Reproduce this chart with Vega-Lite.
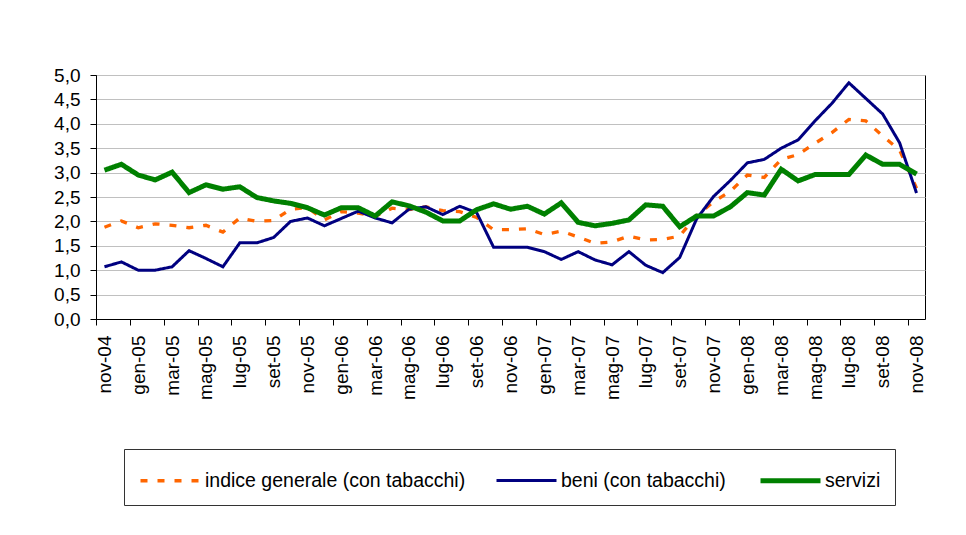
{
  "$schema": "https://vega.github.io/schema/vega-lite/v6.json",
  "autosize": {"type": "none"},
  "padding": {"left": 96, "top": 75, "right": 41, "bottom": 216},
  "width": 829,
  "height": 244,
  "background": "white",
  "config": {
    "view": {"stroke": "#000000", "strokeWidth": 1},
    "font": "Liberation Sans"
  },
  "data": {
    "values": [
      {"mese": "nov-04", "indice generale (con tabacchi)": 1.88, "beni (con tabacchi)": 1.07, "servizi": 3.05},
      {"mese": "dic-04", "indice generale (con tabacchi)": 2.01, "beni (con tabacchi)": 1.17, "servizi": 3.17},
      {"mese": "gen-05", "indice generale (con tabacchi)": 1.87, "beni (con tabacchi)": 1.00, "servizi": 2.95},
      {"mese": "feb-05", "indice generale (con tabacchi)": 1.95, "beni (con tabacchi)": 1.00, "servizi": 2.85},
      {"mese": "mar-05", "indice generale (con tabacchi)": 1.92, "beni (con tabacchi)": 1.07, "servizi": 3.01},
      {"mese": "apr-05", "indice generale (con tabacchi)": 1.87, "beni (con tabacchi)": 1.40, "servizi": 2.59},
      {"mese": "mag-05", "indice generale (con tabacchi)": 1.92, "beni (con tabacchi)": 1.24, "servizi": 2.75},
      {"mese": "giu-05", "indice generale (con tabacchi)": 1.78, "beni (con tabacchi)": 1.07, "servizi": 2.66},
      {"mese": "lug-05", "indice generale (con tabacchi)": 2.07, "beni (con tabacchi)": 1.56, "servizi": 2.71},
      {"mese": "ago-05", "indice generale (con tabacchi)": 2.00, "beni (con tabacchi)": 1.56, "servizi": 2.49},
      {"mese": "set-05", "indice generale (con tabacchi)": 2.02, "beni (con tabacchi)": 1.67, "servizi": 2.42},
      {"mese": "ott-05", "indice generale (con tabacchi)": 2.25, "beni (con tabacchi)": 2.00, "servizi": 2.37},
      {"mese": "nov-05", "indice generale (con tabacchi)": 2.28, "beni (con tabacchi)": 2.07, "servizi": 2.28},
      {"mese": "dic-05", "indice generale (con tabacchi)": 2.03, "beni (con tabacchi)": 1.91, "servizi": 2.13},
      {"mese": "gen-06", "indice generale (con tabacchi)": 2.20, "beni (con tabacchi)": 2.06, "servizi": 2.28},
      {"mese": "feb-06", "indice generale (con tabacchi)": 2.17, "beni (con tabacchi)": 2.21, "servizi": 2.28},
      {"mese": "mar-06", "indice generale (con tabacchi)": 2.10, "beni (con tabacchi)": 2.07, "servizi": 2.11},
      {"mese": "apr-06", "indice generale (con tabacchi)": 2.27, "beni (con tabacchi)": 1.97, "servizi": 2.40},
      {"mese": "mag-06", "indice generale (con tabacchi)": 2.24, "beni (con tabacchi)": 2.25, "servizi": 2.32},
      {"mese": "giu-06", "indice generale (con tabacchi)": 2.30, "beni (con tabacchi)": 2.30, "servizi": 2.19},
      {"mese": "lug-06", "indice generale (con tabacchi)": 2.22, "beni (con tabacchi)": 2.14, "servizi": 2.01},
      {"mese": "ago-06", "indice generale (con tabacchi)": 2.20, "beni (con tabacchi)": 2.31, "servizi": 2.01},
      {"mese": "set-06", "indice generale (con tabacchi)": 2.08, "beni (con tabacchi)": 2.18, "servizi": 2.24},
      {"mese": "ott-06", "indice generale (con tabacchi)": 1.83, "beni (con tabacchi)": 1.47, "servizi": 2.36},
      {"mese": "nov-06", "indice generale (con tabacchi)": 1.83, "beni (con tabacchi)": 1.47, "servizi": 2.25},
      {"mese": "dic-06", "indice generale (con tabacchi)": 1.85, "beni (con tabacchi)": 1.47, "servizi": 2.31},
      {"mese": "gen-07", "indice generale (con tabacchi)": 1.73, "beni (con tabacchi)": 1.38, "servizi": 2.15},
      {"mese": "feb-07", "indice generale (con tabacchi)": 1.80, "beni (con tabacchi)": 1.22, "servizi": 2.38},
      {"mese": "mar-07", "indice generale (con tabacchi)": 1.68, "beni (con tabacchi)": 1.38, "servizi": 1.98},
      {"mese": "apr-07", "indice generale (con tabacchi)": 1.55, "beni (con tabacchi)": 1.21, "servizi": 1.91},
      {"mese": "mag-07", "indice generale (con tabacchi)": 1.58, "beni (con tabacchi)": 1.11, "servizi": 1.96},
      {"mese": "giu-07", "indice generale (con tabacchi)": 1.70, "beni (con tabacchi)": 1.38, "servizi": 2.03},
      {"mese": "lug-07", "indice generale (con tabacchi)": 1.62, "beni (con tabacchi)": 1.10, "servizi": 2.34},
      {"mese": "ago-07", "indice generale (con tabacchi)": 1.63, "beni (con tabacchi)": 0.95, "servizi": 2.31},
      {"mese": "set-07", "indice generale (con tabacchi)": 1.70, "beni (con tabacchi)": 1.26, "servizi": 1.89},
      {"mese": "ott-07", "indice generale (con tabacchi)": 2.12, "beni (con tabacchi)": 2.05, "servizi": 2.11},
      {"mese": "nov-07", "indice generale (con tabacchi)": 2.40, "beni (con tabacchi)": 2.51, "servizi": 2.11},
      {"mese": "dic-07", "indice generale (con tabacchi)": 2.62, "beni (con tabacchi)": 2.84, "servizi": 2.30},
      {"mese": "gen-08", "indice generale (con tabacchi)": 2.95, "beni (con tabacchi)": 3.20, "servizi": 2.59},
      {"mese": "feb-08", "indice generale (con tabacchi)": 2.90, "beni (con tabacchi)": 3.27, "servizi": 2.54},
      {"mese": "mar-08", "indice generale (con tabacchi)": 3.27, "beni (con tabacchi)": 3.50, "servizi": 3.07},
      {"mese": "apr-08", "indice generale (con tabacchi)": 3.37, "beni (con tabacchi)": 3.67, "servizi": 2.83},
      {"mese": "mag-08", "indice generale (con tabacchi)": 3.60, "beni (con tabacchi)": 4.06, "servizi": 2.96},
      {"mese": "giu-08", "indice generale (con tabacchi)": 3.82, "beni (con tabacchi)": 4.42, "servizi": 2.96},
      {"mese": "lug-08", "indice generale (con tabacchi)": 4.09, "beni (con tabacchi)": 4.84, "servizi": 2.96},
      {"mese": "ago-08", "indice generale (con tabacchi)": 4.06, "beni (con tabacchi)": 4.52, "servizi": 3.36},
      {"mese": "set-08", "indice generale (con tabacchi)": 3.75, "beni (con tabacchi)": 4.20, "servizi": 3.17},
      {"mese": "ott-08", "indice generale (con tabacchi)": 3.46, "beni (con tabacchi)": 3.61, "servizi": 3.17},
      {"mese": "nov-08", "indice generale (con tabacchi)": 2.68, "beni (con tabacchi)": 2.58, "servizi": 2.97}
    ]
  },
  "transform": [
    {"fold": ["indice generale (con tabacchi)", "beni (con tabacchi)", "servizi"], "as": ["serie", "valore"]}
  ],
  "mark": {"type": "line", "strokeJoin": "miter", "strokeCap": "butt"},
  "encoding": {
    "x": {
      "field": "mese",
      "type": "ordinal",
      "sort": null,
      "scale": {"type": "point", "padding": 0.5},
      "axis": {
        "title": null,
        "values": ["nov-04","gen-05","mar-05","mag-05","lug-05","set-05","nov-05","gen-06","mar-06","mag-06","lug-06","set-06","nov-06","gen-07","mar-07","mag-07","lug-07","set-07","nov-07","gen-08","mar-08","mag-08","lug-08","set-08","nov-08"],
        "labelAngle": -90,
        "labelAlign": "right",
        "labelBaseline": "middle",
        "labelFont": "Liberation Sans",
        "labelFontSize": 19,
        "labelColor": "#000000",
        "labelPadding": 10,
        "labelOverlap": false,
        "tickOffset": -8.46,
        "labelOffset": 8.46,
        "tickSize": 6,
        "tickColor": "#000000",
        "domainColor": "#000000",
        "grid": false
      }
    },
    "y": {
      "field": "valore",
      "type": "quantitative",
      "scale": {"domain": [0, 5], "nice": false, "zero": true},
      "axis": {
        "title": null,
        "values": [0, 0.5, 1, 1.5, 2, 2.5, 3, 3.5, 4, 4.5, 5],
        "labelExpr": "replace(format(datum.value, '.1f'), '.', ',')",
        "labelFont": "Liberation Sans",
        "labelFontSize": 19,
        "labelColor": "#000000",
        "labelPadding": 10,
        "tickSize": 6,
        "tickColor": "#000000",
        "domainColor": "#000000",
        "grid": true,
        "gridColor": "#c0c0c0",
        "gridWidth": 1
      }
    },
    "color": {
      "field": "serie",
      "type": "nominal",
      "scale": {
        "domain": ["indice generale (con tabacchi)", "beni (con tabacchi)", "servizi"],
        "range": ["#ff6600", "#000080", "#008000"]
      },
      "legend": {
        "title": null,
        "orient": "none",
        "legendX": 28,
        "legendY": 374,
        "direction": "horizontal",
        "columns": 3,
        "symbolType": "M-1,0H3",
        "symbolSize": 900,
        "labelFont": "Liberation Sans",
        "labelFontSize": 19.5,
        "labelColor": "#000000",
        "labelOffset": 32,
        "columnPadding": 24,
        "padding": 14,
        "strokeColor": "#333333",
        "fillColor": "white",
        "labelLimit": 400
      }
    },
    "strokeDash": {
      "field": "serie",
      "type": "nominal",
      "scale": {
        "type": "ordinal",
        "domain": ["indice generale (con tabacchi)", "beni (con tabacchi)", "servizi"],
        "range": [[7, 10], [1, 0], [1, 0]]
      },
      "legend": null
    },
    "strokeWidth": {
      "field": "serie",
      "type": "nominal",
      "scale": {
        "type": "ordinal",
        "domain": ["indice generale (con tabacchi)", "beni (con tabacchi)", "servizi"],
        "range": [3.3, 3, 5]
      },
      "legend": null
    }
  }
}
